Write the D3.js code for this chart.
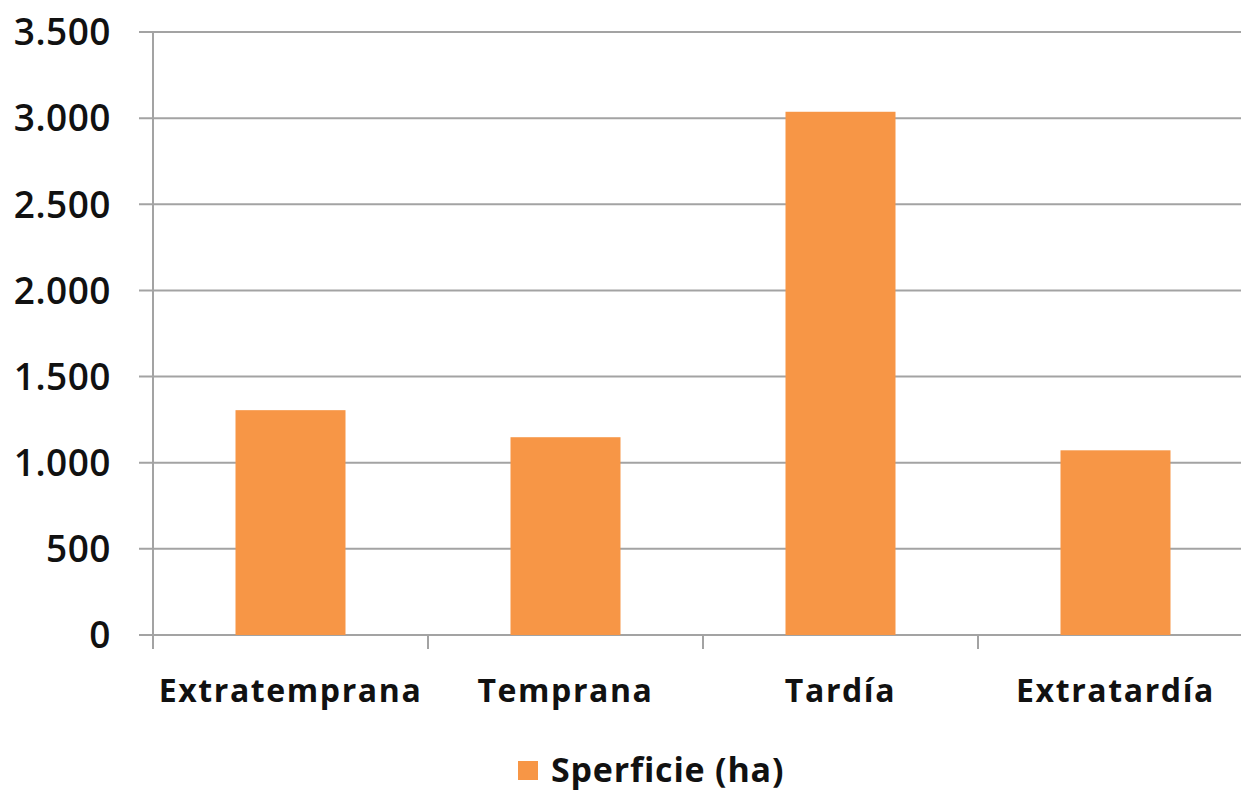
<!DOCTYPE html>
<html>
<head>
<meta charset="utf-8">
<script src="https://cdn.jsdelivr.net/npm/d3@7"></script>
<style>
  body { margin: 0; background: #fff; }
  text { font-family: "Open Sans", "Noto Sans", sans-serif; fill: #111; }
</style>
</head>
<body>
<div id="chart"></div>
<script>
// data
var categories = ["Extratemprana", "Temprana", "Tardía", "Extratardía"];
var superficie = [1305, 1148, 3037, 1072];
var yTicks = [0, 500, 1000, 1500, 2000, 2500, 3000, 3500];
var seriesName = "Sperficie (ha)";

var svgWidth = 1241;
var svgHeight = 794;
var margin = { top: 32, right: -12, bottom: 159, left: 153 };
var width = svgWidth - margin.left - margin.right;
var height = svgHeight - margin.top - margin.bottom;

var svg = d3.select("#chart")
    .append("svg")
    .attr("width", svgWidth)
    .attr("height", svgHeight);

var chartGroup = svg.append("g")
    .attr("transform", `translate(${margin.left}, ${margin.top})`);

var xScale = d3.scaleBand()
    .domain(categories)
    .range([0, width])
    .paddingInner(0.6)
    .paddingOuter(0.3);

var yScale = d3.scaleLinear()
    .domain([0, 3500])
    .range([height, 0]);

// gridlines + left ticks
chartGroup.selectAll(".grid")
    .data(yTicks)
    .enter()
    .append("line")
    .attr("x1", -14)
    .attr("x2", width)
    .attr("y1", d => yScale(d))
    .attr("y2", d => yScale(d))
    .attr("stroke", "#a3a3a3")
    .attr("stroke-width", 2);

// y labels
chartGroup.selectAll(".ylab")
    .data(yTicks)
    .enter()
    .append("text")
    .attr("x", -42)
    .attr("y", d => yScale(d))
    .attr("dy", "0.36em")
    .attr("text-anchor", "end")
    .attr("font-size", 37)
    .attr("font-weight", 600)
    .attr("letter-spacing", 0.5)
    .text(d => d3.format(",")(d).replace(/,/g, "."));

// y axis line
chartGroup.append("line")
    .attr("x1", 0).attr("x2", 0)
    .attr("y1", 0).attr("y2", height + 14)
    .attr("stroke", "#a3a3a3")
    .attr("stroke-width", 2);

// x ticks between categories
var step = xScale.step();
chartGroup.selectAll(".xtick")
    .data(d3.range(1, categories.length))
    .enter()
    .append("line")
    .attr("x1", d => d * step)
    .attr("x2", d => d * step)
    .attr("y1", height)
    .attr("y2", height + 14)
    .attr("stroke", "#a3a3a3")
    .attr("stroke-width", 2);

// bars
chartGroup.selectAll("rect")
    .data(categories)
    .enter()
    .append("rect")
    .attr("x", d => xScale(d))
    .attr("y", (d, i) => yScale(superficie[i]))
    .attr("width", xScale.bandwidth())
    .attr("height", (d, i) => height - yScale(superficie[i]))
    .attr("fill", "#f79646");

// x labels
chartGroup.selectAll(".xlab")
    .data(categories)
    .enter()
    .append("text")
    .attr("x", d => xScale(d) + xScale.bandwidth() / 2)
    .attr("y", height + 67)
    .attr("text-anchor", "middle")
    .attr("font-size", 32)
    .attr("font-weight", 700)
    .attr("letter-spacing", 1.6)
    .text(d => d);

// legend
svg.append("rect")
    .attr("x", 518)
    .attr("y", 761)
    .attr("width", 20)
    .attr("height", 19)
    .attr("fill", "#f79646");

svg.append("text")
    .attr("x", 551)
    .attr("y", 782)
    .attr("font-size", 34)
    .attr("font-weight", 700)
    .attr("letter-spacing", 0.8)
    .text(seriesName);
</script>
</body>
</html>
